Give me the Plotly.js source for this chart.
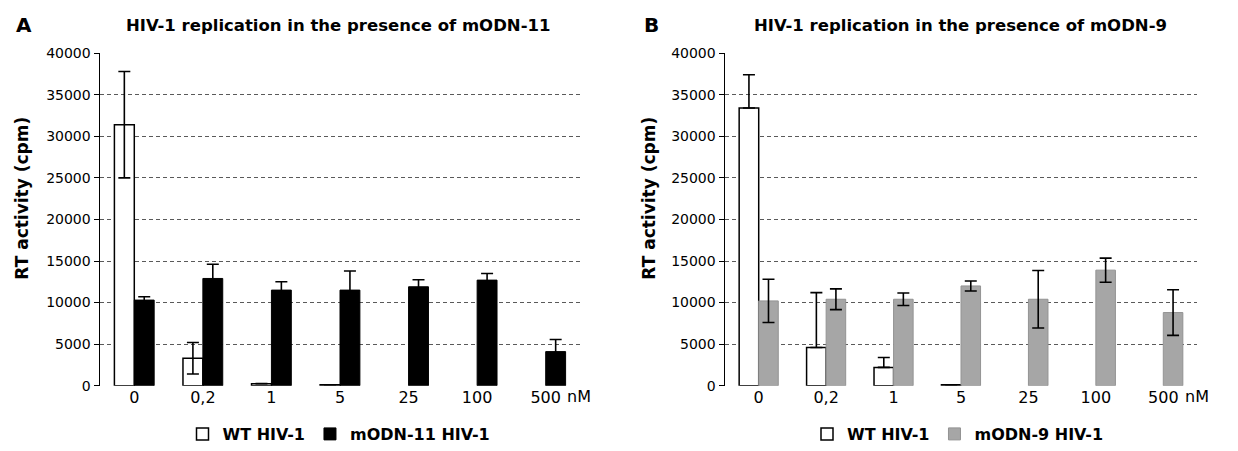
<!DOCTYPE html>
<html>
<head>
<meta charset="utf-8">
<script src="https://cdn.plot.ly/plotly-3.0.1.min.js"></script>
<style>html,body{margin:0;padding:0;background:#fff;}#chart{width:1238px;height:451px;}</style>
</head>
<body>
<div id="chart"></div>
<script>
// Categories (concentration, nM)
const categories = ['0', '0,2', '1', '5', '25', '100', '500'];

// Panel A: mODN-11
const wtA = [31400, 3300, 250, 120, null, null, null];
const wtAErr = [6400, 1900, 0, 0, 0, 0, 0];
const modn11 = [10300, 12900, 11500, 11500, 11900, 12700, 4100];
const modn11Err = [400, 1700, 1000, 2300, 850, 800, 1450];

// Panel B: mODN-9
const wtB = [33400, 4600, 2200, 120, null, null, null];
const wtBErrPlus = [4000, 6600, 1200, 0, 0, 0, 0];
const modn9 = [10200, 10400, 10400, 12000, 10400, 13900, 8800];
const modn9Err = [2600, 1250, 750, 600, 3450, 1450, 2750];

const yTicks = [0, 5000, 10000, 15000, 20000, 25000, 30000, 35000, 40000];

const FONT = '"DejaVu Sans", Verdana, sans-serif';
const W = 1238, H = 451;

function errBar(arr, minus) {
  const e = {type: 'data', array: arr, visible: true, color: '#000', thickness: 1.6, width: 6};
  if (minus) { e.symmetric = false; e.arrayminus = minus; } else { e.symmetric = true; }
  return e;
}

const traces = [
  {type: 'bar', name: 'WT HIV-1', x: categories, y: wtA, xaxis: 'x', yaxis: 'y',
   marker: {color: '#ffffff', line: {color: '#000000', width: 1.5}},
   error_y: errBar(wtAErr), legend: 'legend'},
  {type: 'bar', name: 'mODN-11 HIV-1', x: categories, y: modn11, xaxis: 'x', yaxis: 'y',
   marker: {color: '#000000', line: {color: '#000000', width: 1}},
   error_y: errBar(modn11Err), legend: 'legend'},
  {type: 'bar', name: 'WT HIV-1', x: categories, y: wtB, xaxis: 'x2', yaxis: 'y2',
   marker: {color: '#ffffff', line: {color: '#000000', width: 1.5}},
   error_y: errBar(wtBErrPlus, [0, 0, 0, 0, 0, 0, 0]), legend: 'legend2'},
  {type: 'bar', name: 'mODN-9 HIV-1', x: categories, y: modn9, xaxis: 'x2', yaxis: 'y2',
   marker: {color: '#a6a6a6', line: {color: '#939393', width: 1}},
   error_y: errBar(modn9Err), legend: 'legend2'}
];

function yAxis(anchor) {
  return {
    domain: [1 - 388.3 / H, 1 - 53.5 / H], range: [0, 40000], anchor: anchor,
    tickvals: yTicks, ticktext: yTicks.map(String),
    showline: true, linecolor: '#000', linewidth: 1.5,
    ticks: 'outside', ticklen: 5, tickcolor: '#000', tickwidth: 1,
    showgrid: true, gridcolor: '#5a5a5a', gridwidth: 1, griddash: '4px,3px',
    zeroline: false, tickfont: {family: FONT, size: 14, color: '#000'}, fixedrange: true
  };
}
function xAxis(d0, d1, anchor) {
  return {
    domain: [d0 / W, d1 / W], anchor: anchor, type: 'category',
    showline: false, ticks: '', showgrid: false, zeroline: false,
    tickfont: {family: FONT, size: 16, color: '#000'}, fixedrange: true
  };
}

const titleFont = {family: FONT, size: 16.5, color: '#000', weight: 'bold'};
const axisTitleFont = {family: FONT, size: 17, color: '#000', weight: 'bold'};
const legendFont = {family: FONT, size: 16, color: '#000', weight: 'bold'};
const letterFont = {family: FONT, size: 20, color: '#000', weight: 'bold'};

const layout = {
  width: W, height: H,
  margin: {l: 0, r: 0, t: 0, b: 0},
  paper_bgcolor: '#fff', plot_bgcolor: '#fff',
  barmode: 'group', bargap: 0.42, bargroupgap: 0,
  showlegend: true,
  xaxis: xAxis(100, 580, 'y'),
  yaxis: yAxis('x'),
  xaxis2: xAxis(725, 1197, 'y2'),
  yaxis2: yAxis('x2'),
  legend: {orientation: 'h', x: 339 / W, xanchor: 'center', y: 1 - 437 / H, yanchor: 'middle',
           font: legendFont, itemwidth: 30, bgcolor: 'rgba(0,0,0,0)', traceorder: 'normal'},
  legend2: {orientation: 'h', x: 958 / W, xanchor: 'center', y: 1 - 437 / H, yanchor: 'middle',
            font: legendFont, itemwidth: 30, bgcolor: 'rgba(0,0,0,0)', traceorder: 'normal'},
  annotations: [
    {text: 'A', xref: 'paper', yref: 'paper', x: 24 / W, y: 1 - 25 / H, xanchor: 'center', yanchor: 'middle',
     showarrow: false, font: letterFont},
    {text: 'B', xref: 'paper', yref: 'paper', x: 651 / W, y: 1 - 25 / H, xanchor: 'center', yanchor: 'middle',
     showarrow: false, font: letterFont},
    {text: 'HIV-1 replication in the presence of mODN-11', xref: 'paper', yref: 'paper',
     x: 338 / W, y: 1 - 26 / H, xanchor: 'center', yanchor: 'middle', showarrow: false, font: titleFont},
    {text: 'HIV-1 replication in the presence of mODN-9', xref: 'paper', yref: 'paper',
     x: 960 / W, y: 1 - 26 / H, xanchor: 'center', yanchor: 'middle', showarrow: false, font: titleFont},
    {text: 'RT activity (cpm)', xref: 'paper', yref: 'paper', x: 22 / W, y: 1 - 200 / H,
     xanchor: 'center', yanchor: 'middle', textangle: -90, showarrow: false, font: axisTitleFont},
    {text: 'RT activity (cpm)', xref: 'paper', yref: 'paper', x: 649 / W, y: 1 - 200 / H,
     xanchor: 'center', yanchor: 'middle', textangle: -90, showarrow: false, font: axisTitleFont},
    {text: 'nM', xref: 'paper', yref: 'paper', x: 565 / W, y: 1 - 399 / H,
     xanchor: 'left', yanchor: 'middle', showarrow: false, font: {family: FONT, size: 16, color: '#000'}},
    {text: 'nM', xref: 'paper', yref: 'paper', x: 1183 / W, y: 1 - 399 / H,
     xanchor: 'left', yanchor: 'middle', showarrow: false, font: {family: FONT, size: 16, color: '#000'}}
  ]
};

Plotly.newPlot('chart', traces, layout, {displayModeBar: false, staticPlot: true});
</script>
</body>
</html>
